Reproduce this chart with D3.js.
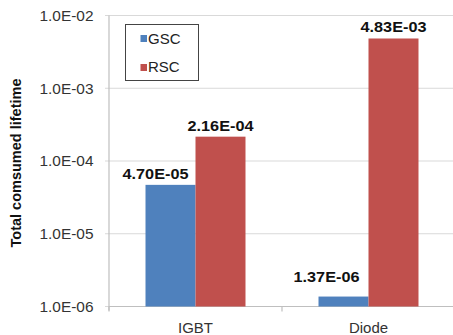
<!DOCTYPE html>
<html><head><meta charset="utf-8">
<script src="https://cdn.jsdelivr.net/npm/d3@7"></script>
<style>body{margin:0;background:#fff}svg{display:block}text{font-family:Arial,"Liberation Sans",sans-serif}</style>
</head><body>
<svg id="c" width="453" height="335"></svg>
<script>
const categories = ["IGBT", "Diode"];
const seriesNames = ["GSC", "RSC"];
const gscValues = [4.70e-5, 1.37e-6];
const rscValues = [2.16e-4, 4.83e-3];
const valueLabels = [["4.70E-05", "1.37E-06"], ["2.16E-04", "4.83E-03"]];
const yTicks = [1e-6, 1e-5, 1e-4, 1e-3, 1e-2];
const yTickLabels = ["1.0E-06", "1.0E-05", "1.0E-04", "1.0E-03", "1.0E-02"];
const colors = ["#4F81BD", "#C0504D"];

const svg = d3.select("#c");
const L = 109, R = 455, T = 15.5, B = 306.5;
const y = d3.scaleLog().domain([1e-6, 1e-2]).range([B, T]);
const x0 = d3.scaleBand().domain(categories).range([L, R]).paddingInner(0.422).paddingOuter(0.211);
const x1 = d3.scaleBand().domain(seriesNames).range([0, x0.bandwidth()]);

// gridlines
svg.append("g").selectAll("line").data(yTicks).join("line")
  .attr("x1", L - 4).attr("x2", R).attr("y1", d => y(d)).attr("y2", d => y(d))
  .attr("stroke", "#d9d9d9").attr("stroke-width", 1.2);
// y axis line
svg.append("line").attr("x1", L).attr("x2", L).attr("y1", T).attr("y2", B + 4)
  .attr("stroke", "#bfbfbf").attr("stroke-width", 1.2);
// x axis
svg.append("line").attr("x1", L).attr("x2", R).attr("y1", B).attr("y2", B)
  .attr("stroke", "#bfbfbf").attr("stroke-width", 1.2);
const step = x0.step();
svg.append("g").selectAll("line").data(d3.range(categories.length + 1)).join("line")
  .attr("x1", i => L + i * step).attr("x2", i => L + i * step)
  .attr("y1", B).attr("y2", B + 5).attr("stroke", "#bfbfbf").attr("stroke-width", 1.2);

// y tick labels
svg.append("g").selectAll("text").data(yTicks).join("text")
  .attr("x", 93.5).attr("y", d => y(d)).attr("dy", "0.36em")
  .attr("text-anchor", "end").attr("font-size", 15).attr("fill", "#333")
  .attr("textLength", 54).attr("lengthAdjust", "spacingAndGlyphs")
  .text((d, i) => yTickLabels[i]);

// x labels
svg.append("g").selectAll("text").data(categories).join("text")
  .attr("x", d => x0(d) + x0.bandwidth() / 2).attr("y", 333)
  .attr("text-anchor", "middle").attr("font-size", 15).attr("fill", "#333")
  .text(d => d);

// y title
svg.append("text").attr("transform", "translate(21,163) rotate(-90)")
  .attr("text-anchor", "middle").attr("font-size", 14.5).attr("font-weight", "bold").attr("fill", "#111")
  .text("Total comsumed lifetime");

// bars
const series = [gscValues, rscValues];
series.forEach((vals, s) => {
  svg.append("g").selectAll("rect").data(categories).join("rect")
    .attr("x", c => x0(c) + x1(seriesNames[s]))
    .attr("width", x1.bandwidth())
    .attr("y", (c, i) => y(vals[i]))
    .attr("height", (c, i) => B - y(vals[i]))
    .attr("fill", colors[s]);
});
// value labels
const labelOffsets = [[-15, -6], [-17, -15]];
series.forEach((vals, s) => {
  svg.append("g").selectAll("text").data(categories).join("text")
    .attr("x", (c, i) => x0(c) + x1(seriesNames[s]) + x1.bandwidth() / 2 + (s === 0 ? labelOffsets[i][0] : 0))
    .attr("y", (c, i) => y(vals[i]) + (s === 0 ? labelOffsets[i][1] : -6))
    .attr("text-anchor", "middle").attr("font-size", 14.5).attr("font-weight", "bold").attr("fill", "#111")
    .attr("textLength", 66).attr("lengthAdjust", "spacingAndGlyphs")
    .text((c, i) => valueLabels[s][i]);
});

// legend
const lg = svg.append("g");
lg.append("rect").attr("x", 125.5).attr("y", 24.5).attr("width", 73).attr("height", 56)
  .attr("fill", "#fff").attr("stroke", "#444").attr("stroke-width", 1);
seriesNames.forEach((n, i) => {
  lg.append("rect").attr("x", 140.5).attr("y", 35 + i * 29).attr("width", 6.5).attr("height", 7).attr("fill", colors[i]);
  lg.append("text").attr("x", 148).attr("y", 44 + i * 27.7)
    .attr("font-size", 15).attr("fill", "#222").text(n);
});
</script>
</body></html>
